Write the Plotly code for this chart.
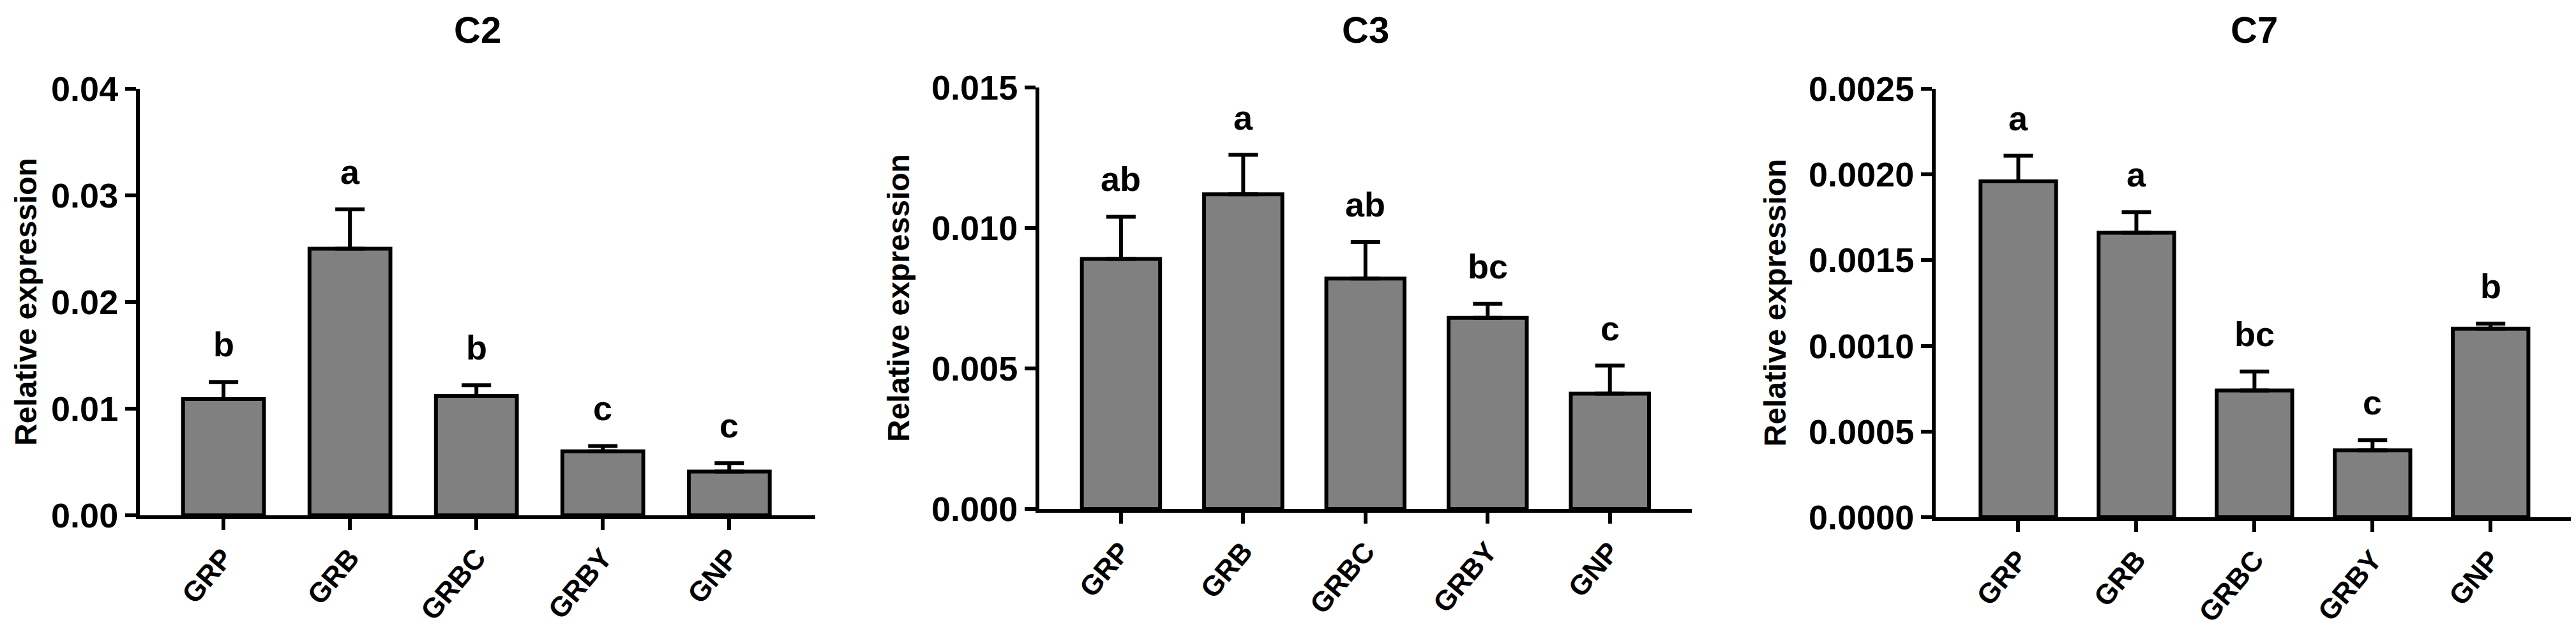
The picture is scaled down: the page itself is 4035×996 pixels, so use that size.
import plotly.graph_objects as go

categories = ["GRP", "GRB", "GRBC", "GRBY", "GNP"]

c2_mean = [0.0109, 0.0250, 0.0112, 0.0060, 0.0041]
c2_sem = [0.0016, 0.0037, 0.0010, 0.0005, 0.0008]
c2_letters = ["b", "a", "b", "c", "c"]

c3_mean = [0.0089, 0.0112, 0.0082, 0.0068, 0.0041]
c3_sem = [0.0015, 0.0014, 0.0013, 0.0005, 0.0010]
c3_letters = ["ab", "a", "ab", "bc", "c"]

c7_mean = [0.00196, 0.00166, 0.00074, 0.00039, 0.00110]
c7_sem = [0.00015, 0.00012, 0.00011, 0.00006, 0.00003]
c7_letters = ["a", "a", "bc", "c", "b"]

titles = ["C2", "C3", "C7"]
y_max = [0.04, 0.015, 0.0025]
y_dtick = [0.01, 0.005, 0.0005]
y_format = [".2f", ".3f", ".4f"]

# the page body adds an 8px margin, so the figure is drawn 8px in from the window edge
OFF = 8
W, H = 4035 - 2 * OFF, 996 - 2 * OFF
FONT = "Liberation Sans, Arial, Helvetica, sans-serif"

# pixel layout of each panel in window pixels: (x_left, x_right, y_top, y_bottom, ytitle_x)
panels = [
    (219, 1277, 139, 807, 40),
    (1628, 2650, 137, 797, 1408),
    (3032, 4029, 139, 810, 2780),
]
x_ranges = [(-0.662, 4.68), (-0.668, 4.67), (-0.70, 4.68)]

series = [
    (c2_mean, c2_sem, c2_letters),
    (c3_mean, c3_sem, c3_letters),
    (c7_mean, c7_sem, c7_letters),
]

fig = go.Figure()
annotations = []
layout_axes = {}


def px(v):
    return (v - OFF) / W


def py(v):
    return 1 - (v - OFF) / H


for i, ((mean, sem, letters), (xl, xr, yt, yb, tx)) in enumerate(zip(series, panels)):
    n = "" if i == 0 else str(i + 1)
    fig.add_trace(go.Bar(
        x=categories, y=mean,
        xaxis="x" + n, yaxis="y" + n,
        width=0.64,
        marker=dict(color="#808080", line=dict(color="black", width=6)),
        error_y=dict(type="data", symmetric=False, array=sem,
                     arrayminus=[0] * len(sem),
                     color="black", thickness=6, width=23),
        showlegend=False,
    ))
    xd = [px(xl), min(px(xr), 1.0)]
    yd = [py(yb), py(yt)]
    layout_axes["xaxis" + n] = dict(
        domain=xd, anchor="y" + n, range=list(x_ranges[i]),
        automargin=False,
        showline=True, linecolor="black", linewidth=6,
        ticks="outside", ticklen=17, tickwidth=6, tickcolor="black",
        tickangle=-50,
        showgrid=False, zeroline=False,
        tickfont=dict(family=FONT, size=44, color="black", weight="bold"),
    )
    layout_axes["yaxis" + n] = dict(
        domain=yd, anchor="x" + n, range=[0, y_max[i]],
        automargin=False,
        dtick=y_dtick[i], tick0=0, tickformat=y_format[i],
        showline=True, linecolor="black", linewidth=6,
        ticks="outside", ticklen=17, tickwidth=6, tickcolor="black",
        showgrid=False, zeroline=False,
        tickfont=dict(family=FONT, size=54, color="black", weight="bold"),
    )
    # panel title
    annotations.append(dict(
        text=titles[i], xref="paper", yref="paper",
        x=px((xl + xr) / 2), y=py(46), xanchor="center", yanchor="middle",
        showarrow=False,
        font=dict(family=FONT, size=58, color="black", weight="bold"),
    ))
    # y-axis title
    annotations.append(dict(
        text="Relative expression", xref="paper", yref="paper",
        x=px(tx), y=py((yt + yb) / 2), xanchor="center", yanchor="middle",
        textangle=-90, showarrow=False,
        font=dict(family=FONT, size=48, color="black", weight="bold"),
    ))
    # significance letters
    for c, m, s, l in zip(categories, mean, sem, letters):
        annotations.append(dict(
            text=l, xref="x" + n, yref="y" + n, x=c, y=m + s,
            xanchor="center", yanchor="bottom", yshift=27,
            showarrow=False,
            font=dict(family=FONT, size=54, color="black", weight="bold"),
        ))

fig.update_layout(
    width=W, height=H,
    margin=dict(l=0, r=0, t=0, b=0),
    paper_bgcolor="white", plot_bgcolor="white",
    annotations=annotations,
    **layout_axes,
)

fig.write_html("out.html")
